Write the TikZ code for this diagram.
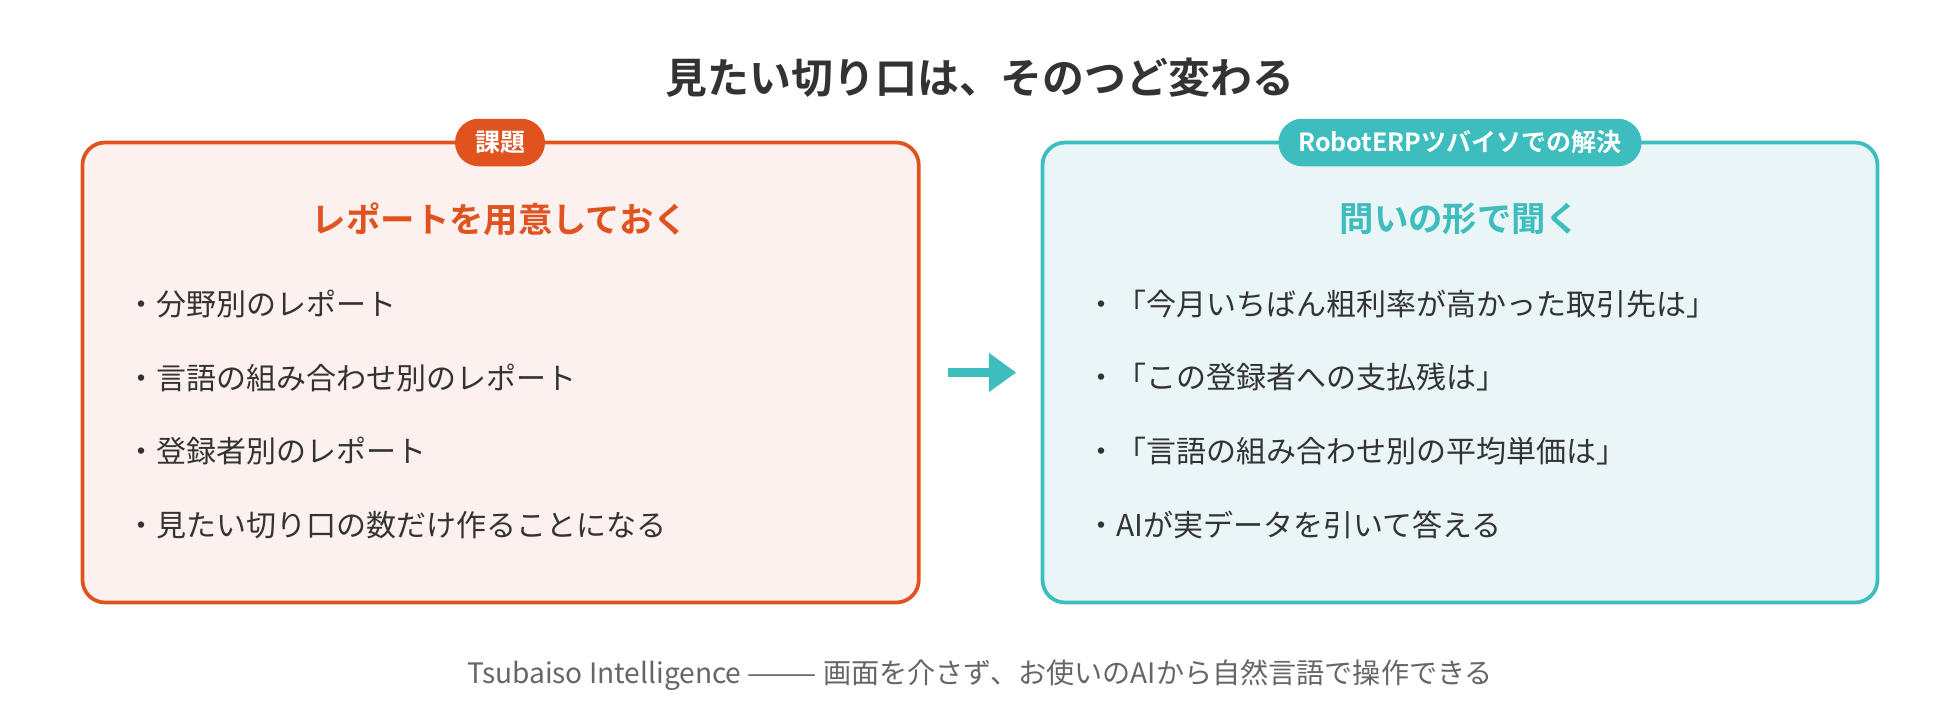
\documentclass[tikz,border=0pt]{standalone}
\usepackage{fontspec}
\setmainfont{Noto Sans CJK JP}[BoldFont={Noto Sans CJK JP Bold}]
\usetikzlibrary{arrows.meta}
\definecolor{issue}{HTML}{E0531F}
\definecolor{issuebg}{HTML}{FCF1EE}
\definecolor{answer}{HTML}{3DBDBD}
\definecolor{answerbg}{HTML}{E9F5F6}
\definecolor{ink}{HTML}{333333}
\definecolor{muted}{HTML}{666666}
\tikzset{
  panel/.style={rounded corners=18pt, line width=3pt},
  badge/.style={rounded corners=19pt, minimum height=38pt, inner xsep=16pt, text=white, font=\bfseries\fontsize{20}{22}\selectfont},
  heading/.style={font=\bfseries\fontsize{27.5}{32}\selectfont},
  item/.style={anchor=west, text=ink, font=\fontsize{24}{28}\selectfont, inner sep=0pt},
}
\begin{document}
\begin{tikzpicture}[x=1pt, y=-1pt]
        \useasboundingbox (0,0) rectangle (1568,576);
        \node[text=ink, font=\bfseries\fontsize{33.5}{38}\selectfont] (title) at (784,62) {見たい切り口は、そのつど変わる};
        % left panel
        \draw[panel, draw=issue, fill=issuebg] (66,114) rectangle (735,482);
        \node[badge, fill=issue] (issuetag) at (400,114) {課題};
        \node[heading, text=issue] (issuehead) at (400,175) {レポートを用意しておく};
        \foreach \t [count=\i] in {分野別のレポート, 言語の組み合わせ別のレポート, 登録者別のレポート, 見たい切り口の数だけ作ることになる} {
            \node[item] (l\i) at (101,{243+(\i-1)*59}) {・\t};
        }
        % right panel
        \draw[panel, draw=answer, fill=answerbg] (834,114) rectangle (1502,482);
        \node[badge, fill=answer] (answertag) at (1168,114) {RobotERPツバイソでの解決};
        \node[heading, text=answer] (answerhead) at (1168,175) {問いの形で聞く};
        \foreach \t [count=\i] in {「今月いちばん粗利率が高かった取引先は」, 「この登録者への支払残は」, 「言語の組み合わせ別の平均単価は」, AIが実データを引いて答える} {
            \node[item] (r\i) at (869,{243+(\i-1)*59}) {・\t};
        }
        \coordinate (from) at (758,298);
        \coordinate (to) at (813,298);
        \draw[answer, line width=7pt, -{Triangle[length=22pt, width=30pt]}] (from) -- (to);
        \node[text=muted, font=\fontsize{22.5}{26}\selectfont] (footer) at (784,540) {Tsubaiso Intelligence ——— 画面を介さず、お使いのAIから自然言語で操作できる};
\end{tikzpicture}
\end{document}
